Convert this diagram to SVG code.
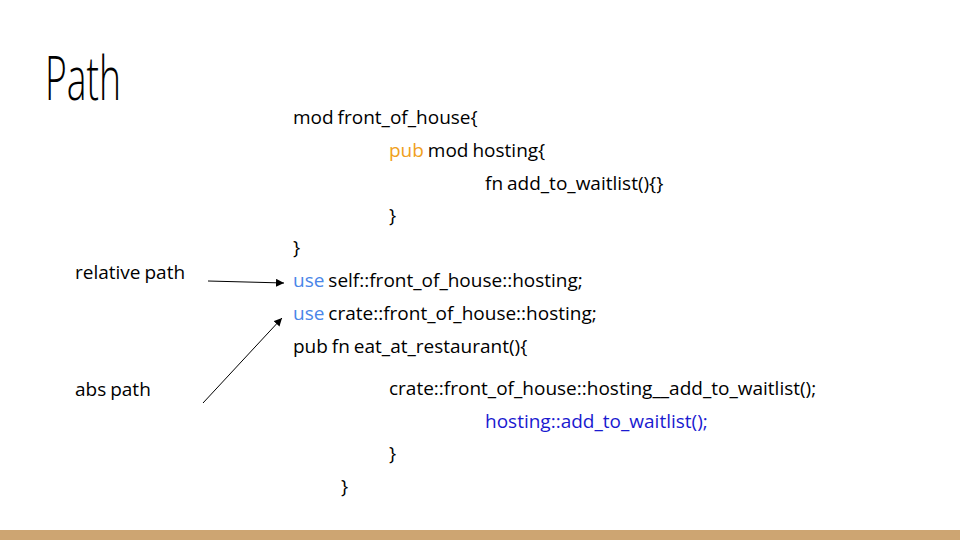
<svg xmlns="http://www.w3.org/2000/svg" width="960" height="540" viewBox="0 0 960 540">
<defs>
<style>
.t{font-family:"Open Sans","Noto Sans",sans-serif;font-size:19px;word-spacing:-1px;fill:#000000;}
.u{fill:#4a86e8;}
.p{fill:#f0a020;}
.b{fill:#1a1ad0;}
.ttl{font-family:"Open Sans","Lato",sans-serif;font-weight:300;font-size:60px;fill:#000000;}
.ar{stroke:#000000;stroke-width:1;fill:none;marker-end:url(#ah);}
</style>
<marker id="ah" viewBox="0 0 10 10" refX="10" refY="5" markerWidth="8" markerHeight="8" markerUnits="userSpaceOnUse" orient="auto">
<path d="M0,0 L10,5 L0,10 z" fill="#000000"/>
</marker>
</defs>
<rect x="0" y="0" width="960" height="540" fill="#ffffff"/>
<rect x="0" y="530" width="960" height="10" fill="#cda572"/>
<g id="title"><text class="ttl" x="45" y="100" textLength="76" lengthAdjust="spacingAndGlyphs">Path</text></g>
<g id="code">
<text class="t" x="293" y="124">mod front_of_house{</text>
<text class="t" x="389" y="157"><tspan class="p">pub</tspan> mod hosting{</text>
<text class="t" x="485" y="190">fn add_to_waitlist(){}</text>
<text class="t" x="389" y="222">}</text>
<text class="t" x="293" y="254">}</text>
<text class="t" x="293" y="287"><tspan class="u">use</tspan> self::front_of_house::hosting;</text>
<text class="t" x="293" y="320"><tspan class="u">use</tspan> crate::front_of_house::hosting;</text>
<text class="t" x="293" y="353">pub fn eat_at_restaurant(){</text>
<text class="t" x="389" y="395">crate::front_of_house::hosting__add_to_waitlist();</text>
<text class="t b" x="485" y="428">hosting::add_to_waitlist();</text>
<text class="t" x="389" y="460">}</text>
<text class="t" x="341" y="493">}</text>
</g>
<g id="label-relative"><text class="t" x="75" y="279">relative path</text></g>
<g id="label-abs"><text class="t" x="75" y="396">abs path</text></g>
<g id="connectors">
<line class="ar" x1="208" y1="281" x2="284" y2="283"/>
<line class="ar" x1="203" y1="403" x2="282" y2="318"/>
</g>
</svg>
